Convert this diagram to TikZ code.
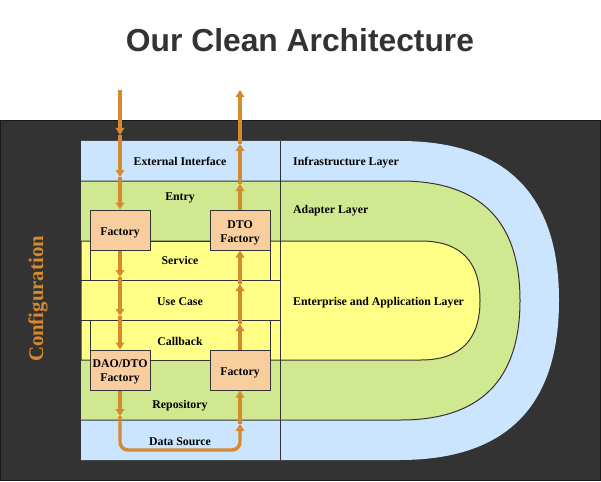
\documentclass[tikz,border=0pt]{standalone}
\usepackage{fontspec}
\setmainfont{Liberation Serif}
\newfontfamily\titlefont{Liberation Sans}
\usetikzlibrary{arrows.meta}
\definecolor{darkbg}{HTML}{333333}
\definecolor{lblue}{HTML}{CCE5FF}
\definecolor{lgreen}{HTML}{D0E890}
\definecolor{lyellow}{HTML}{FFFF88}
\definecolor{peach}{HTML}{F8CE9F}
\definecolor{orng}{HTML}{D68A30}
\definecolor{edge}{HTML}{333333}
\tikzset{
  lbl/.style={font=\fontsize{11.8}{13}\selectfont\bfseries, text=black, inner sep=0pt, anchor=base},
  rlbl/.style={lbl, anchor=base west},
  fbox/.style={draw=edge, fill=peach, line width=1pt, minimum width=60pt, minimum height=40pt, inner sep=0pt},
  rowbox/.style={draw=edge, fill=lyellow, line width=1pt},
  flow/.style={draw=orng, line width=3.4pt, -{Triangle[length=7pt,width=8.5pt]}},
}
\begin{document}
\begin{tikzpicture}[x=1pt,y=-1pt]
\useasboundingbox (0,0) rectangle (601,481);
% title
\node[font=\titlefont\fontsize{31.8}{34}\selectfont\bfseries, text=darkbg, anchor=base, inner sep=0pt] (title) at (300,52) {Our Clean Architecture};
% dark background
\draw[fill=darkbg, draw=black!90, line width=1pt] (0.5,120.5) rectangle (600.5,480.5);
% infrastructure (blue)
\path[fill=lblue] (81,141) -- (399.5,141) .. controls (505.83,141) and (559,194.17) .. (559,300.5)
  .. controls (559,406.83) and (505.83,460) .. (399.5,460) -- (81,460) -- cycle;
% adapter (green)
\path[fill=lgreen] (81,181) -- (400.5,181) .. controls (480.17,181) and (520,220.83) .. (520,300.5)
  .. controls (520,380.17) and (480.17,420) .. (400.5,420) -- (81,420) -- cycle;
\draw[edge, line width=1pt] (81,181) -- (400.5,181) .. controls (480.17,181) and (520,220.83) .. (520,300.5)
  .. controls (520,380.17) and (480.17,420) .. (400.5,420) -- (81,420);
% enterprise (yellow)
\path[fill=lyellow, draw=edge, line width=1pt] (81,241) -- (420.5,241) .. controls (460.17,241) and (480,260.83) .. (480,300.5)
  .. controls (480,340.17) and (460.17,360) .. (420.5,360) -- (81,360) -- cycle;
% left rows
\draw[rowbox] (90,241) rectangle (270,280);
\draw[rowbox] (90,320) rectangle (270,360);
\path[fill=lyellow] (81.5,280) rectangle (280,320);
\draw[edge, line width=1pt] (81,280) -- (280,280);
\draw[edge, line width=1pt] (81,320) -- (280,320);
% vertical divider
\draw[edge, line width=1pt] (280.5,141) -- (280.5,460);
% left labels
\node[lbl] (ext) at (180,165) {External Interface};
\node[lbl] (entry) at (180,200) {Entry};
\node[lbl] (serv) at (180,264) {Service};
\node[lbl] (uc) at (180,305) {Use Case};
\node[lbl] (cb) at (180,345) {Callback};
\node[lbl] (repo) at (180,408) {Repository};
\node[lbl] (ds) at (180,445) {Data Source};
% right labels
\node[rlbl] (infra) at (293,165) {Infrastructure Layer};
\node[rlbl] (adapt) at (293,213) {Adapter Layer};
\node[rlbl] (ent) at (293,305) {Enterprise and Application Layer};
% configuration
\node[font=\fontsize{20.8}{22}\selectfont\bfseries, text=orng, rotate=90] (conf) at (38,299) {Configuration};
% factories
\node[fbox] (fac1) at (120,230) {};
\node[fbox] (dto) at (240,230) {};
\node[fbox] (dao) at (120,370) {};
\node[fbox] (fac2) at (240,370) {};
\node[lbl] (fac1t) at (120,235) {Factory};
\node[lbl] (dtot1) at (240,228) {DTO};
\node[lbl] (dtot2) at (240,242) {Factory};
\node[lbl] (daot1) at (120,367) {DAO/DTO};
\node[lbl] (daot2) at (120,381) {Factory};
\node[lbl] (fac2t) at (240,375) {Factory};
% flow coordinates
\coordinate (in) at (120,90);
\coordinate (a1) at (120,135);
\coordinate (a2) at (120,177);
\coordinate (b1) at (120,277);
\coordinate (b2) at (120,316);
\coordinate (c1) at (120,416);
\coordinate (c2) at (120,450);
\coordinate (c3) at (240,450);
\coordinate (d1) at (240,424);
\coordinate (e1) at (240,324);
\coordinate (e2) at (240,284);
\coordinate (f1) at (240,184);
\coordinate (f2) at (240,144);
\coordinate (out) at (240,90);
% flows
\draw[flow] (in) -- (a1);
\draw[flow] (a1) -- (a2);
\draw[flow] (a2) -- (fac1.north);
\draw[flow] (fac1.south) -- (b1);
\draw[flow] (b1) -- (b2);
\draw[flow] (b2) -- (dao.north);
\draw[flow] (dao.south) -- (c1);
\draw[flow, rounded corners=8pt] (c1) -- (c2) -- (c3) -- (d1);
\draw[flow] (d1) -- (fac2.south);
\draw[flow] (fac2.north) -- (e1);
\draw[flow] (e1) -- (e2);
\draw[flow] (e2) -- (dto.south);
\draw[flow] (dto.north) -- (f1);
\draw[flow] (f1) -- (f2);
\draw[flow] (f2) -- (out);
\end{tikzpicture}
\end{document}
